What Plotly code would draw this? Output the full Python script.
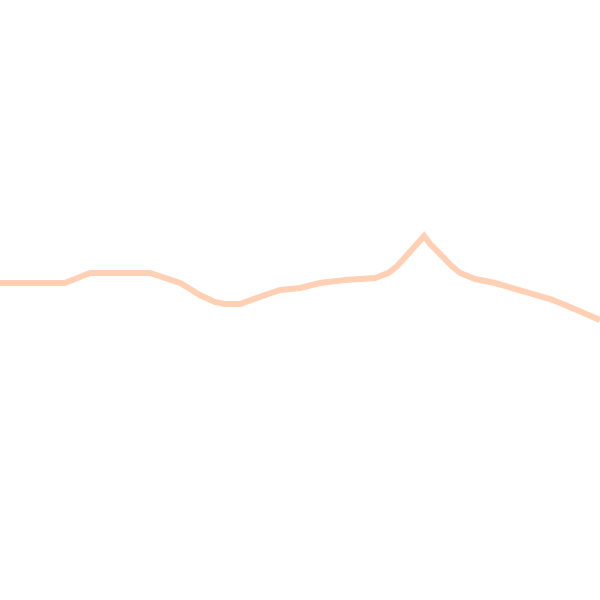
import plotly.graph_objects as go

# x positions (time units 0..100) and values
x_vals = [0, 10.8, 12.5, 15, 25, 26.7, 28.3, 30, 31.7, 33.3, 35.8, 37.5, 40, 41.7,
          44.2, 46.7, 50, 53.3, 57.5, 62.5, 64.7, 66.2, 67.5, 68.7, 69.7, 70.7,
          71.7, 72.8, 74.2, 75.3, 76.7, 79.2, 82.5, 85, 88.3, 91.7, 94.2, 96.7, 100]
y_vals = [317, 317, 321, 327, 327, 324, 320, 317, 311, 305, 298, 296, 296, 300,
          305, 310, 312, 317, 320, 322, 327, 334, 343, 350, 357, 364,
          356, 349, 341, 334, 327, 321, 317, 313, 307, 301, 295, 289, 280]

fig = go.Figure(go.Scatter(
    x=x_vals, y=y_vals, mode="lines",
    line=dict(color="rgb(255,208,180)", width=6),
    hoverinfo="skip"))

fig.update_layout(
    width=600, height=600,
    margin=dict(l=0, r=0, t=0, b=0),
    paper_bgcolor="white", plot_bgcolor="white",
    showlegend=False,
    xaxis=dict(range=[0, 100], visible=False, fixedrange=True),
    yaxis=dict(range=[0, 600], visible=False, fixedrange=True),
)

fig.write_html("out.html", config={"displayModeBar": False},
               post_script="document.body.style.margin='0';document.body.style.overflow='hidden';")
